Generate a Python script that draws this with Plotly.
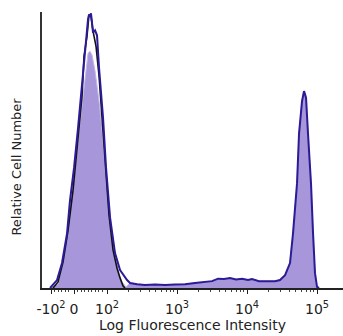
import numpy as np
import plotly.graph_objects as go

# Display channel (decade units on a biexponential-like display axis)
tick_vals = [1.2, 1.529, 2, 3, 4, 5]
tick_text = ["-10<sup>2</sup>", "0", "10<sup>2</sup>", "10<sup>3</sup>", "10<sup>4</sup>", "10<sup>5</sup>"]

# Stained sample outline (dark blue)
blue_x = [1.186, 1.286, 1.357, 1.429, 1.471, 1.529, 1.586, 1.643, 1.657, 1.686, 1.700, 1.714,
          1.729, 1.743, 1.757, 1.771, 1.786, 1.800, 1.829, 1.857, 1.886, 1.943, 1.986, 2.043,
          2.114, 2.186, 2.286, 2.329, 2.429, 2.543, 2.686, 2.829, 2.971, 3.114, 3.257, 3.400,
          3.500, 3.586, 3.671, 3.757, 3.843, 3.929, 4.014, 4.071, 4.171, 4.314, 4.400, 4.471,
          4.543, 4.614, 4.657, 4.714, 4.743, 4.786, 4.800, 4.814, 4.829, 4.843, 4.871, 4.914,
          4.943, 4.971, 5.000, 5.029]
blue_y = [0.0, 2.9, 9.1, 19.9, 31.9, 43.8, 58.3, 74.3, 80.0, 86.5, 89.5, 93.0,
          98.0, 99.6, 99.0, 100.0, 95.5, 93.0, 93.8, 92.0, 80.1, 62.0, 43.8, 25.7,
          12.7, 6.5, 2.9, 1.8, 1.4, 1.1, 1.3, 1.1, 1.3, 1.4, 1.8, 2.2,
          2.5, 3.4, 3.3, 3.6, 3.1, 3.4, 2.9, 3.3, 2.5, 2.5, 2.5, 2.9,
          4.7, 9.1, 19.9, 38.0, 56.2, 68.1, 71.0, 71.7, 70.5, 69.2, 56.2, 38.0,
          19.9, 5.4, 0.4, 0.0]

# Isotype control outline (black), left population only
black_x = [1.229, 1.300, 1.371, 1.443, 1.514, 1.586, 1.643, 1.671, 1.714, 1.743, 1.771,
           1.800, 1.843, 1.886, 1.929, 1.971, 2.029, 2.086, 2.143, 2.186, 2.229, 2.257]
black_y = [0.0, 2.2, 9.4, 21.0, 35.5, 53.6, 69.9, 84.4, 91.7, 99.6, 98.9,
           93.5, 88.0, 77.2, 60.9, 44.6, 26.4, 13.8, 7.2, 3.6, 0.7, 0.0]

# Filled histogram (lavender), left population
fill_left_x = [1.186, 1.300, 1.357, 1.429, 1.486, 1.543, 1.600, 1.657, 1.700, 1.729, 1.757,
               1.786, 1.829, 1.886, 1.943, 2.000, 2.057, 2.114, 2.171, 2.214, 2.271]
fill_left_y = [0.0, 1.4, 8.0, 18.8, 31.9, 44.6, 59.1, 71.7, 80.8, 85.5, 86.2,
               84.8, 79.0, 68.1, 53.6, 37.3, 22.8, 12.0, 5.4, 2.2, 0.4]

fill_x = fill_left_x + [x for x in blue_x if x > 2.3]
fill_y = fill_left_y + [y for x, y in zip(blue_x, blue_y) if x > 2.3]

FILL = "#a796da"
BLUE = "#2b1b96"

fig = go.Figure()
fig.add_trace(go.Scatter(x=fill_x, y=fill_y, mode="lines", fill="tozeroy",
                         fillcolor=FILL, line=dict(color="#c4b8ea", width=1),
                         hoverinfo="skip", showlegend=False))
fig.add_trace(go.Scatter(x=black_x, y=black_y, mode="lines",
                         line=dict(color="#111111", width=1.6),
                         hoverinfo="skip", showlegend=False))
fig.add_trace(go.Scatter(x=blue_x, y=blue_y, mode="lines",
                         line=dict(color=BLUE, width=2),
                         hoverinfo="skip", showlegend=False))

minor_vals = []
for d in (2, 3, 4):
    for k in range(2, 10):
        minor_vals.append(d + np.log10(k))
minor_vals += [1.25, 1.30, 1.35, 1.40, 1.45, 1.58, 1.63, 1.68, 1.73, 1.78, 1.83, 1.88, 1.93]

fig.update_layout(
    width=343, height=336,
    margin=dict(l=42, r=0, t=12, b=48, autoexpand=False),
    paper_bgcolor="white", plot_bgcolor="white",
    font=dict(family="DejaVu Sans", color="#222222"),
    xaxis=dict(range=[1.071, 5.371], tickmode="array", tickvals=tick_vals,
               ticktext=tick_text, ticks="outside", ticklen=4, tickwidth=1,
               tickcolor="#222222", showgrid=False, zeroline=False,
               showline=True, linecolor="#222222", linewidth=1.5,
               tickfont=dict(size=14, color="#222222"), automargin=False,
               ticklabelstandoff=3,
               minor=dict(tickmode="array", tickvals=minor_vals, ticks="outside",
                          ticklen=2, tickcolor="#444444", showgrid=False),
               title=dict(text="Log Fluorescence Intensity", standoff=2,
                          font=dict(size=14, color="#222222"))),
    yaxis=dict(range=[0, 100.5], showticklabels=False, ticks="", showgrid=False,
               zeroline=False, showline=True, linecolor="#333333", linewidth=1.5,
               automargin=False),
    annotations=[dict(text="Relative Cell Number", textangle=-90, showarrow=False,
                      xref="paper", yref="paper", x=-0.083, y=0.44,
                      xanchor="center", yanchor="middle",
                      font=dict(size=13, color="#222222"))],
)

fig.write_html("out.html", config={"displayModeBar": False},
               post_script="document.body.style.margin='0';")
